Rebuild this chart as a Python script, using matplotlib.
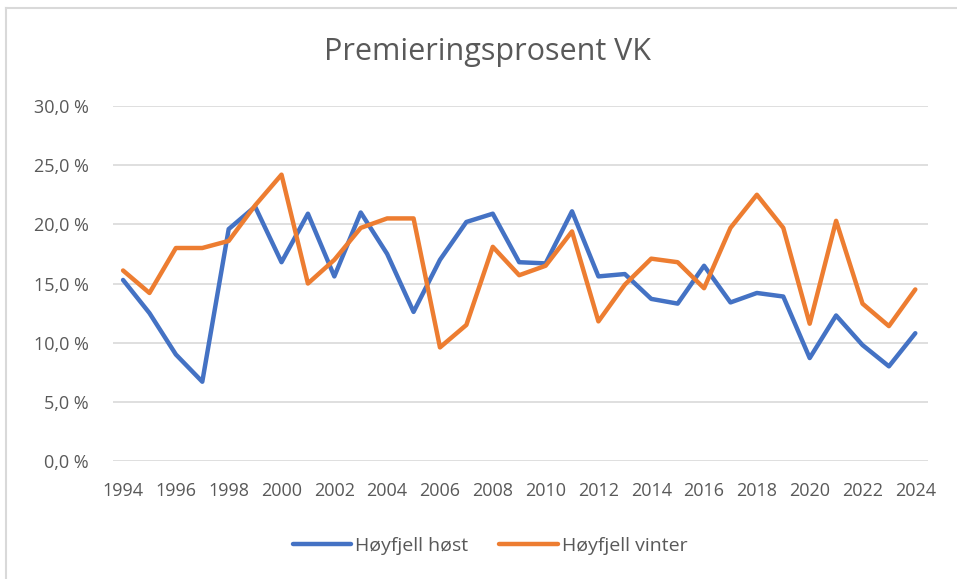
import matplotlib.pyplot as plt
from matplotlib.ticker import FuncFormatter
from matplotlib.lines import Line2D

# -------------------------------
# Data
# -------------------------------
years = list(range(1994, 2025))
hoyfjell_host = [15.3, 12.5, 9.0, 6.7, 19.6, 21.5, 16.8, 20.9, 15.6, 21.0,
                 17.5, 12.6, 17.0, 20.2, 20.9, 16.8, 16.7, 21.1, 15.6, 15.8,
                 13.7, 13.3, 16.5, 13.4, 14.2, 13.9, 8.7, 12.3, 9.8, 8.0, 10.8]
hoyfjell_vinter = [16.1, 14.2, 18.0, 18.0, 18.6, 21.6, 24.2, 15.0, 17.0, 19.7,
                   20.5, 20.5, 9.6, 11.5, 18.1, 15.7, 16.5, 19.4, 11.8, 14.9,
                   17.1, 16.8, 14.6, 19.7, 22.5, 19.7, 11.6, 20.3, 13.3, 11.4, 14.5]
series_names = ["Høyfjell høst", "Høyfjell vinter"]
xtick_years = list(range(1994, 2025, 2))

# -------------------------------
# Figure
# -------------------------------
plt.rcParams['font.family'] = ['Open Sans', 'DejaVu Sans']
text_col = "#595959"

fig = plt.figure(figsize=(9.57, 5.79), dpi=100)
# chart frame (only top and left edges visible in the crop)
fig.lines.append(Line2D([0.0065, 1.0], [0.986, 0.986], transform=fig.transFigure,
                        color="#D9D9D9", linewidth=1.5))
fig.lines.append(Line2D([0.0065, 0.0065], [0.0, 0.986], transform=fig.transFigure,
                        color="#D9D9D9", linewidth=1.5))

ax = fig.add_axes([0.1181, 0.2038, 0.8516, 0.6131])
ax.plot(years, hoyfjell_host, color="#4472C4", linewidth=3.2, label=series_names[0],
        solid_joinstyle="round", solid_capstyle="round")
ax.plot(years, hoyfjell_vinter, color="#ED7D31", linewidth=3.2, label=series_names[1],
        solid_joinstyle="round", solid_capstyle="round")

ax.set_xlim(1993.62, 2024.48)
ax.set_ylim(0, 30)
ax.set_yticks([0, 5, 10, 15, 20, 25, 30])
ax.yaxis.set_major_formatter(FuncFormatter(lambda v, p: f"{v:.1f} %".replace(".", ",")))
ax.set_xticks(xtick_years)
ax.grid(axis="y", color="#D9D9D9", linewidth=1.2)
ax.set_axisbelow(True)
for s in ax.spines.values():
    s.set_visible(False)
ax.tick_params(length=0, labelsize=13, labelcolor=text_col)
ax.tick_params(axis="x", pad=15)
ax.tick_params(axis="y", pad=17.5)

fig.text(0.509, 0.91, "Premieringsprosent VK", ha="center", va="center",
         fontsize=22, color=text_col)

fig.legend(loc="center", bbox_to_anchor=(0.512, 0.057), ncol=2, frameon=False,
           fontsize=14, labelcolor=text_col, handlelength=3.0, columnspacing=1.6,
           handletextpad=0.2)

fig.savefig("out.png", dpi=100)
